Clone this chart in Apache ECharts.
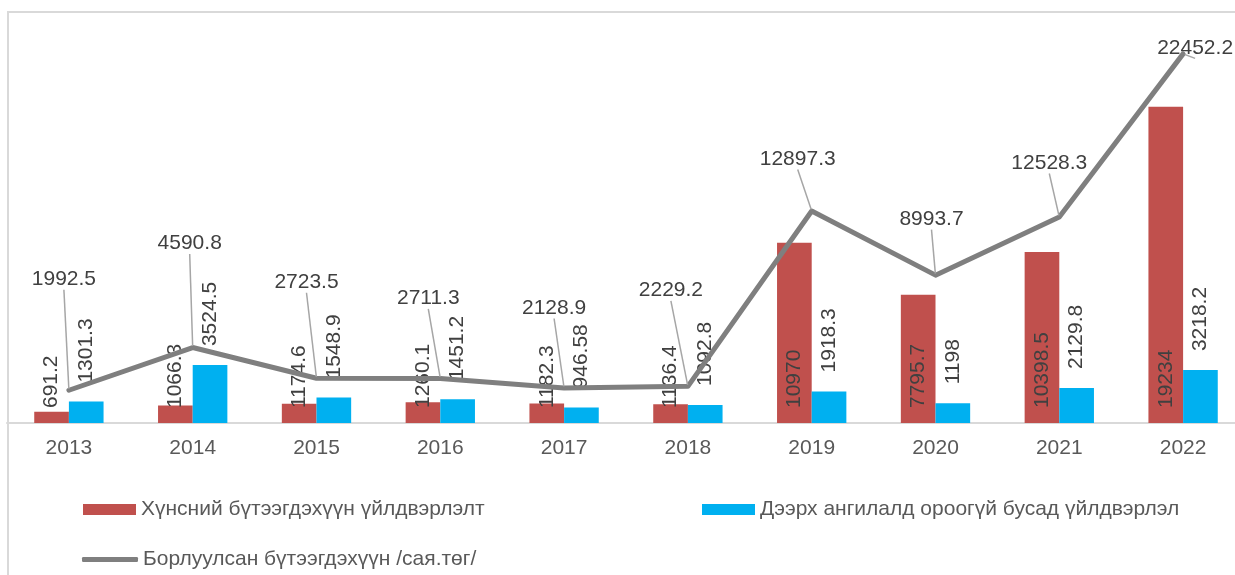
<!DOCTYPE html>
<html>
<head>
<meta charset="utf-8">
<script src="https://cdn.jsdelivr.net/npm/echarts@6/dist/echarts.min.js"></script>
<style>
  html, body { margin: 0; padding: 0; background: #fff; }
  #chart { width: 1235px; height: 575px; }
</style>
</head>
<body>
<div id="chart"></div>
<script>
var years = ['2013', '2014', '2015', '2016', '2017', '2018', '2019', '2020', '2021', '2022'];
var foodProduction = [691.2, 1066.3, 1174.6, 1260.1, 1182.3, 1136.4, 10970, 7795.7, 10398.5, 19234];
var otherProduction = [1301.3, 3524.5, 1548.9, 1451.2, 946.58, 1092.8, 1918.3, 1198, 2129.8, 3218.2];
var soldProducts = [1992.5, 4590.8, 2723.5, 2711.3, 2128.9, 2229.2, 12897.3, 8993.7, 12528.3, 22452.2];

var seriesNames = [
    'Хүнсний бүтээгдэхүүн үйлдвэрлэлт',
    'Дээрх ангилалд ороогүй бусад үйлдвэрлэл',
    'Борлуулсан бүтээгдэхүүн /сая.төг/'
];

// hand placed line labels (offset from the point), as in the original
var lineLabelDx = [-5, -3, -10, -12, -10, -17, -14, -4, -10, 12];
var lineLabelDy = [-111, -104, -96, -80, -80, -96, -52, -56, -54, -6];

var font = 'Liberation Sans, Arial, sans-serif';
var fontSize = 21;

var myChart = echarts.init(document.getElementById('chart'));

function legendAt(name, left, top, icon, w, h) {
    return {
        data: [name],
        left: left,
        top: top,
        icon: icon,
        itemWidth: w,
        itemHeight: h,
        itemGap: 0,
        textStyle: { color: '#595959', fontSize: fontSize, fontFamily: font },
        selectedMode: false
    };
}

var option = {
    animation: false,
    backgroundColor: '#fff',
    textStyle: { fontFamily: font },
    graphic: [{
        type: 'rect',
        shape: { x: 8, y: 12, width: 1400, height: 800 },
        style: { fill: 'none', stroke: '#d9d9d9', lineWidth: 2 },
        silent: true
    }],
    legend: [
        legendAt(seriesNames[0], 78, 494, 'rect', 53, 11),
        legendAt(seriesNames[1], 697, 494, 'rect', 53, 11),
        legendAt(seriesNames[2], 77, 544, 'roundRect', 56, 5)
    ],
    // the plot runs a little past the right edge of the picture
    grid: { left: 7, width: 1238, top: 12, bottom: 152, outerBoundsMode: 'none' },
    xAxis: {
        type: 'category',
        data: years,
        axisLine: { lineStyle: { color: '#d9d9d9', width: 2 } },
        axisTick: { show: false },
        axisLabel: { color: '#595959', fontSize: fontSize, margin: 15, fontFamily: font }
    },
    yAxis: {
        type: 'value',
        min: 0,
        max: 25000,
        show: false,
        splitLine: { show: false }
    },
    series: [{
        name: seriesNames[0],
        type: 'bar',
        data: foodProduction,
        barWidth: '28%',
        barGap: '0%',
        itemStyle: { color: '#c0504d' },
        label: {
            show: true,
            position: 'insideBottom',
            distance: 15,
            rotate: 90,
            align: 'left',
            verticalAlign: 'middle',
            color: '#404040',
            fontSize: fontSize,
            fontFamily: font
        }
    }, {
        name: seriesNames[1],
        type: 'bar',
        data: otherProduction,
        barWidth: '28%',
        barGap: '0%',
        itemStyle: { color: '#00b0f0' },
        label: {
            show: true,
            position: 'top',
            distance: 19,
            rotate: 90,
            align: 'left',
            verticalAlign: 'middle',
            color: '#404040',
            fontSize: fontSize,
            fontFamily: font
        }
    }, {
        name: seriesNames[2],
        type: 'line',
        data: soldProducts,
        symbol: 'circle',
        symbolSize: 3,
        lineStyle: { color: '#7f7f7f', width: 5, cap: 'round', join: 'round' },
        itemStyle: { color: '#7f7f7f' },
        z: 5,
        label: {
            show: true,
            position: 'inside',
            color: '#404040',
            fontSize: fontSize,
            fontFamily: font
        },
        labelLine: {
            show: true,
            lineStyle: { color: '#a6a6a6', width: 1.5 }
        },
        labelLayout: function (params) {
            return { dx: lineLabelDx[params.dataIndex], dy: lineLabelDy[params.dataIndex] };
        }
    }]
};

myChart.setOption(option);
</script>
</body>
</html>
